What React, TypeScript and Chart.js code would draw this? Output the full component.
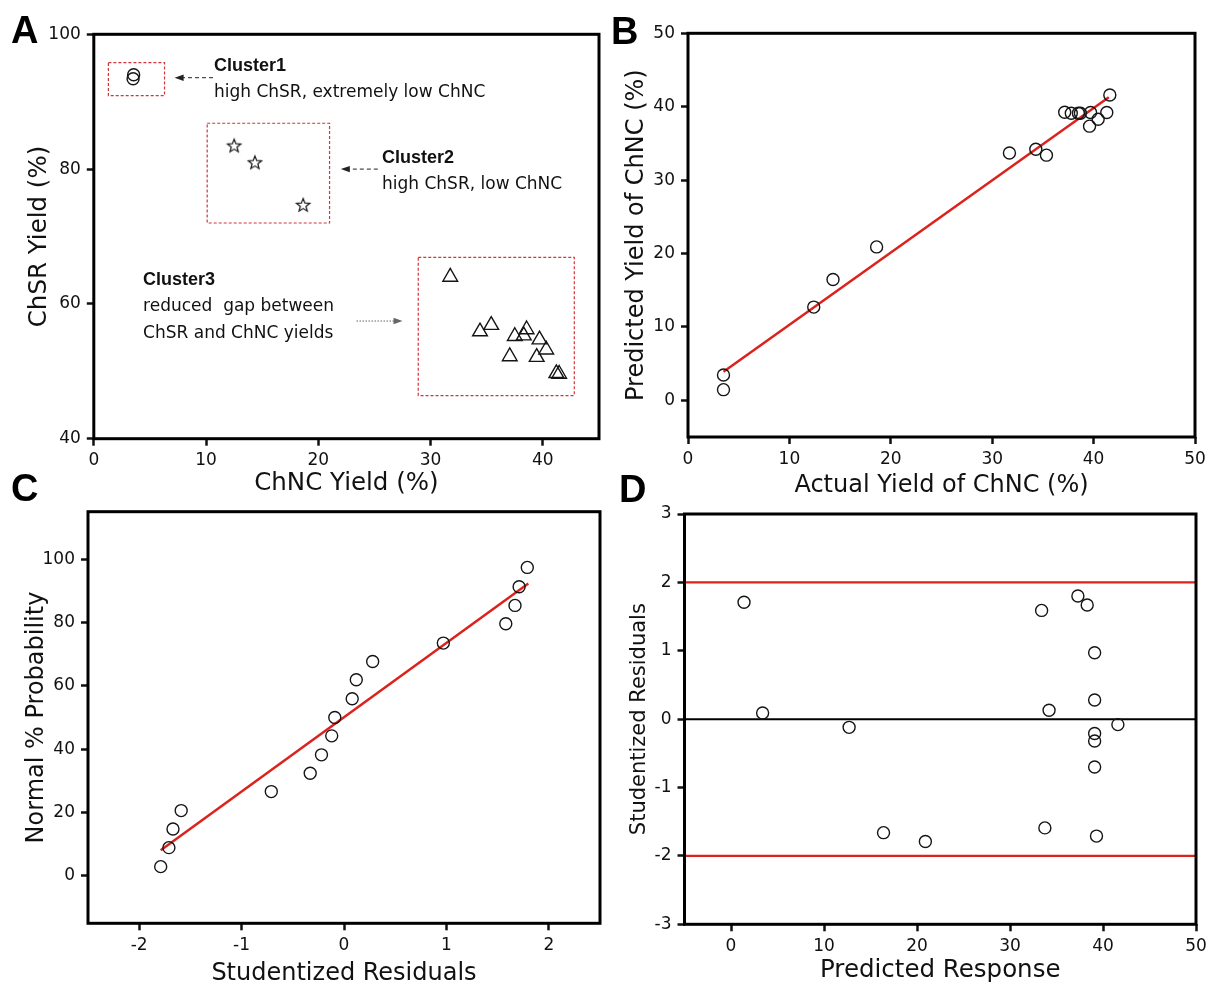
import { useEffect, useRef } from 'react';
import { Chart, registerables } from 'chart.js';

Chart.register(...registerables);

const PAGE_W = 1208;
const PAGE_H = 987;

// ---- Panel A: ChNC yield vs ChSR yield, three clusters ----
const cluster1ChNC = [3.55, 3.5];
const cluster1ChSR = [94.0, 93.4];
const cluster2ChNC = [12.5, 14.35, 18.65];
const cluster2ChSR = [83.5, 81.0, 74.7];
const cluster3ChNC = [31.75, 34.4, 35.4, 37.5, 38.3, 38.55, 39.7, 40.3, 37.05, 39.45, 41.2, 41.45];
const cluster3ChSR = [64.0, 55.9, 56.85, 55.2, 55.3, 56.2, 54.7, 53.2, 52.2, 52.1, 49.7, 49.6];
const aTicksX = [0, 10, 20, 30, 40];
const aTicksY = [40, 60, 80, 100];

// ---- Panel B: actual vs predicted ChNC yield ----
const actualYield = [3.5, 3.5, 12.4, 14.3, 18.6, 31.7, 34.3, 35.35, 37.15, 37.8, 38.5, 38.7, 39.7, 41.3, 39.6, 40.45, 41.6];
const predictedYield = [1.45, 3.45, 12.7, 16.45, 20.9, 33.7, 34.2, 33.4, 39.25, 39.1, 39.1, 39.1, 39.2, 39.2, 37.35, 38.3, 41.6];
const parityFitX = [3.5, 41.5];
const parityFitY = [3.9, 41.3];
const bTicksX = [0, 10, 20, 30, 40, 50];
const bTicksY = [0, 10, 20, 30, 40, 50];

// ---- Panel C: normal probability plot of residuals ----
const sortedResiduals = [-1.79, -1.71, -1.67, -1.59, -0.71, -0.33, -0.22, -0.12, -0.09, 0.08, 0.12, 0.28, 0.97, 1.58, 1.67, 1.71, 1.79];
const normalProbability = [2.9, 8.9, 14.8, 20.6, 26.6, 32.4, 38.2, 44.2, 50.0, 55.9, 61.9, 67.7, 73.5, 79.6, 85.4, 91.3, 97.4];
const probFitX = [-1.79, 1.8];
const probFitY = [8.1, 92.3];
const cTicksX = [-2, -1, 0, 1, 2];
const cTicksY = [0, 20, 40, 60, 80, 100];

// ---- Panel D: residuals vs predicted response ----
const predictedResponse = [1.4, 3.4, 12.7, 16.4, 20.9, 33.4, 33.75, 34.2, 37.3, 38.3, 39.1, 39.1, 39.1, 39.1, 39.1, 39.3, 41.6];
const studentizedResiduals = [1.71, 0.09, -0.12, -1.66, -1.79, 1.59, -1.59, 0.13, 1.8, 1.67, 0.97, 0.28, -0.21, -0.32, -0.7, -1.71, -0.08];
const residualLimits = [2, -2];
const dTicksX = [0, 10, 20, 30, 40, 50];
const dTicksY = [-3, -2, -1, 0, 1, 2, 3];

const RED = '#dc221c';
const INK = '#111';
const MARK = '#151515';
const TEXT_FAMILY = '"DejaVu Sans", sans-serif';
const BOLD_FAMILY = '"Liberation Sans", Arial, sans-serif';

const pts = (xs: number[], ys: number[]) => xs.map((x, i) => ({ x, y: ys[i] }));

type FrameSpec = {
  left: number; top: number; right: number; bottom: number;
  yTitleX: number; xTitleY: number; yTitleSize: number; xTitleSize: number;
};

function layoutFor(f: FrameSpec) {
  const lhY = f.yTitleSize * 1.2;
  const lhX = f.xTitleSize * 1.2;
  const yW = f.left - (f.yTitleX - lhY / 2);
  const xH = f.xTitleY + lhX / 2 - f.bottom;
  return {
    padding: { left: f.left - yW, top: f.top, right: PAGE_W - f.right, bottom: PAGE_H - f.bottom - xH },
    yW,
    xH,
  };
}

function axis(
  kind: 'x' | 'y',
  min: number,
  max: number,
  tickValues: number[],
  title: string,
  titleSize: number,
  size: number,
) {
  return {
    type: 'linear' as const,
    position: kind === 'x' ? 'bottom' : 'left',
    min,
    max,
    afterBuildTicks: (s: any) => {
      s.ticks = tickValues.map((value) => ({ value }));
    },
    ticks: {
      autoSkip: false,
      maxRotation: 0,
      padding: kind === 'x' ? 5 : 6,
      color: INK,
      font: { family: TEXT_FAMILY, size: 17 },
    },
    grid: {
      display: true,
      drawOnChartArea: false,
      drawTicks: true,
      tickLength: 7,
      tickWidth: 2.5,
      tickColor: INK,
    },
    border: { display: false },
    title: {
      display: true,
      text: title,
      color: INK,
      padding: 0,
      font: { family: TEXT_FAMILY, size: titleSize, lineHeight: 1.2 },
    },
    afterFit: (s: any) => {
      if (kind === 'x') s.height = size;
      else s.width = size;
      s.paddingLeft = 0;
      s.paddingRight = 0;
      s.paddingTop = 0;
      s.paddingBottom = 0;
    },
  };
}

const framePlugin = {
  id: 'plotFrame',
  afterDraw(chart: Chart) {
    const { left, top, right, bottom } = chart.chartArea;
    const ctx = chart.ctx;
    ctx.save();
    ctx.lineWidth = 3;
    ctx.strokeStyle = '#000';
    ctx.strokeRect(left, top, right - left, bottom - top);
    ctx.restore();
  },
};

function letterPlugin(letter: string, x: number, baseline: number) {
  return {
    id: 'panelLetter',
    afterDraw(chart: Chart) {
      const ctx = chart.ctx;
      ctx.save();
      ctx.fillStyle = '#000';
      ctx.font = `bold 38px ${BOLD_FAMILY}`;
      ctx.textBaseline = 'alphabetic';
      ctx.textAlign = 'left';
      ctx.fillText(letter, x, baseline);
      ctx.restore();
    },
  };
}

function makeStar(): HTMLCanvasElement {
  const c = document.createElement('canvas');
  c.width = 18;
  c.height = 18;
  const g = c.getContext('2d')!;
  g.beginPath();
  for (let i = 0; i < 10; i++) {
    const r = i % 2 === 0 ? 7 : 3;
    const a = -Math.PI / 2 + (i * Math.PI) / 5;
    const px = 9 + r * Math.cos(a);
    const py = 9.6 + r * Math.sin(a);
    if (i === 0) g.moveTo(px, py);
    else g.lineTo(px, py);
  }
  g.closePath();
  g.strokeStyle = MARK;
  g.lineWidth = 1.2;
  g.stroke();
  return c;
}

// Cluster boxes, arrows and labels of panel A, placed in data units
const clusterAnnotations = {
  id: 'clusterAnnotations',
  afterDatasetsDraw(chart: Chart) {
    const xs = chart.scales.x;
    const ys = chart.scales.y;
    const X = (v: number) => xs.getPixelForValue(v);
    const Y = (v: number) => ys.getPixelForValue(v);
    const ctx = chart.ctx;
    ctx.save();

    // dashed red boxes
    const boxes = [
      [1.3, 6.3, 90.9, 95.8],
      [10.1, 21.0, 72.0, 86.8],
      [28.9, 42.8, 46.4, 66.9],
    ];
    ctx.strokeStyle = '#d0353a';
    ctx.lineWidth = 1.2;
    ctx.setLineDash([3, 2]);
    for (const [x0, x1, y0, y1] of boxes) {
      ctx.strokeRect(X(x0), Y(y1), X(x1) - X(x0), Y(y0) - Y(y1));
    }

    const arrow = (x0: number, x1: number, y: number, color: string, dash: number[]) => {
      const px0 = X(x0);
      const px1 = X(x1);
      const py = Y(y);
      const dir = Math.sign(px1 - px0);
      ctx.strokeStyle = color;
      ctx.fillStyle = color;
      ctx.lineWidth = 1;
      ctx.setLineDash(dash);
      ctx.beginPath();
      ctx.moveTo(px0, py);
      ctx.lineTo(px1 - dir * 6, py);
      ctx.stroke();
      ctx.setLineDash([]);
      ctx.beginPath();
      ctx.moveTo(px1, py);
      ctx.lineTo(px1 - dir * 9, py - 3.2);
      ctx.lineTo(px1 - dir * 9, py + 3.2);
      ctx.closePath();
      ctx.fill();
    };
    arrow(10.62, 7.2, 93.56, '#222', [4, 3]);
    arrow(25.3, 22.0, 80.0, '#222', [4, 3]);
    arrow(23.4, 27.5, 57.46, '#666', [1.5, 1.5]);

    ctx.setLineDash([]);
    ctx.fillStyle = '#111';
    ctx.textAlign = 'left';
    ctx.textBaseline = 'alphabetic';
    const bold = `bold 18px ${BOLD_FAMILY}`;
    const regular = `17px ${TEXT_FAMILY}`;
    const label = (text: string, x: number, y: number, font: string) => {
      ctx.font = font;
      ctx.fillText(text, X(x), Y(y));
    };
    label('Cluster1', 10.7, 94.55, bold);
    label('high ChSR, extremely low ChNC', 10.7, 90.7, regular);
    label('Cluster2', 25.67, 80.95, bold);
    label('high ChSR, low ChNC', 25.67, 77.1, regular);
    label('Cluster3', 4.39, 62.8, bold);
    label('reduced  gap between', 4.39, 58.95, regular);
    label('ChSR and ChNC yields', 4.39, 55.0, regular);
    ctx.restore();
  },
};

const circleStyle = {
  pointStyle: 'circle' as const,
  pointRadius: 6,
  pointBorderWidth: 1.4,
  pointBorderColor: MARK,
  pointBackgroundColor: 'rgba(0,0,0,0)',
  showLine: false,
  order: 0,
};

const fitLineStyle = (color: string, width: number) => ({
  showLine: true,
  pointRadius: 0,
  borderColor: color,
  borderWidth: width,
  order: 1,
});

const baseOptions = (f: FrameSpec) => {
  const l = layoutFor(f);
  return {
    l,
    common: {
      responsive: false,
      maintainAspectRatio: false,
      animation: false as const,
      events: [],
      layout: { padding: l.padding },
      plugins: { legend: { display: false }, tooltip: { enabled: false } },
    },
  };
};

function buildA(canvas: HTMLCanvasElement) {
  const f: FrameSpec = { left: 93.8, top: 34.3, right: 599, bottom: 438.7, yTitleX: 40, xTitleY: 484, yTitleSize: 24.5, xTitleSize: 24.5 };
  const { l, common } = baseOptions(f);
  return new Chart(canvas, {
    type: 'scatter',
    data: {
      datasets: [
        { data: pts(cluster1ChNC, cluster1ChSR), ...circleStyle },
        {
          data: pts(cluster2ChNC, cluster2ChSR),
          pointStyle: makeStar(),
          pointRadius: 6,
          showLine: false,
        },
        {
          data: pts(cluster3ChNC, cluster3ChSR),
          pointStyle: 'triangle',
          pointRadius: 8.5,
          pointBorderWidth: 1.4,
          pointBorderColor: MARK,
          pointBackgroundColor: 'rgba(0,0,0,0)',
          showLine: false,
        },
      ],
    },
    options: {
      ...common,
      scales: {
        x: axis('x', 0, 45, aTicksX, 'ChNC Yield (%)', f.xTitleSize, l.xH),
        y: axis('y', 40, 100, aTicksY, 'ChSR Yield (%)', f.yTitleSize, l.yW),
      },
    } as any,
    plugins: [clusterAnnotations, framePlugin, letterPlugin('A', 11, 43)],
  });
}

function buildB(canvas: HTMLCanvasElement) {
  const f: FrameSpec = { left: 688, top: 33.3, right: 1195, bottom: 437, yTitleX: 636.5, xTitleY: 486, yTitleSize: 24, xTitleSize: 24 };
  const { l, common } = baseOptions(f);
  return new Chart(canvas, {
    type: 'scatter',
    data: {
      datasets: [
        { data: pts(actualYield, predictedYield), ...circleStyle },
        { data: pts(parityFitX, parityFitY), ...fitLineStyle(RED, 2.5) },
      ],
    },
    options: {
      ...common,
      scales: {
        x: axis('x', 0, 50, bTicksX, 'Actual Yield of ChNC (%)', f.xTitleSize, l.xH),
        y: axis('y', -5, 50, bTicksY, 'Predicted Yield of ChNC (%)', f.yTitleSize, l.yW),
      },
    } as any,
    plugins: [framePlugin, letterPlugin('B', 611, 44)],
  });
}

function buildC(canvas: HTMLCanvasElement) {
  const f: FrameSpec = { left: 88, top: 511.7, right: 600, bottom: 923.3, yTitleX: 37, xTitleY: 973.5, yTitleSize: 24, xTitleSize: 24 };
  const { l, common } = baseOptions(f);
  return new Chart(canvas, {
    type: 'scatter',
    data: {
      datasets: [
        { data: pts(sortedResiduals, normalProbability), ...circleStyle },
        { data: pts(probFitX, probFitY), ...fitLineStyle(RED, 2.5) },
      ],
    },
    options: {
      ...common,
      scales: {
        x: axis('x', -2.5, 2.5, cTicksX, 'Studentized Residuals', f.xTitleSize, l.xH),
        y: axis('y', -15, 115, cTicksY, 'Normal % Probability', f.yTitleSize, l.yW),
      },
    } as any,
    plugins: [framePlugin, letterPlugin('C', 11, 501)],
  });
}

function buildD(canvas: HTMLCanvasElement) {
  const f: FrameSpec = { left: 684.5, top: 514, right: 1196, bottom: 924.3, yTitleX: 640, xTitleY: 971, yTitleSize: 21, xTitleSize: 24.5 };
  const { l, common } = baseOptions(f);
  const xMin = -5;
  const xMax = 50;
  return new Chart(canvas, {
    type: 'scatter',
    data: {
      datasets: [
        { data: pts(predictedResponse, studentizedResiduals), ...circleStyle },
        ...residualLimits.map((lim) => ({ data: pts([xMin, xMax], [lim, lim]), ...fitLineStyle(RED, 2.2) })),
        { data: pts([xMin, xMax], [0, 0]), ...fitLineStyle('#000', 2) },
      ],
    },
    options: {
      ...common,
      scales: {
        x: axis('x', xMin, xMax, dTicksX, 'Predicted Response', f.xTitleSize, l.xH),
        y: axis('y', -3, 3, dTicksY, 'Studentized Residuals', f.yTitleSize, l.yW),
      },
    } as any,
    plugins: [framePlugin, letterPlugin('D', 619, 502)],
  });
}

function Panel({ build }: { build: (c: HTMLCanvasElement) => Chart }) {
  const ref = useRef<HTMLCanvasElement>(null);
  useEffect(() => {
    const chart = build(ref.current!);
    return () => chart.destroy();
  }, [build]);
  return (
    <canvas
      ref={ref}
      width={PAGE_W}
      height={PAGE_H}
      style={{ position: 'absolute', left: 0, top: 0, width: PAGE_W, height: PAGE_H }}
    />
  );
}

export default function App() {
  return (
    <div
      style={{
        position: 'absolute',
        left: 0,
        top: 0,
        width: PAGE_W,
        height: PAGE_H,
        overflow: 'hidden',
        background: '#fff',
      }}
    >
      <Panel build={buildA} />
      <Panel build={buildB} />
      <Panel build={buildC} />
      <Panel build={buildD} />
    </div>
  );
}
